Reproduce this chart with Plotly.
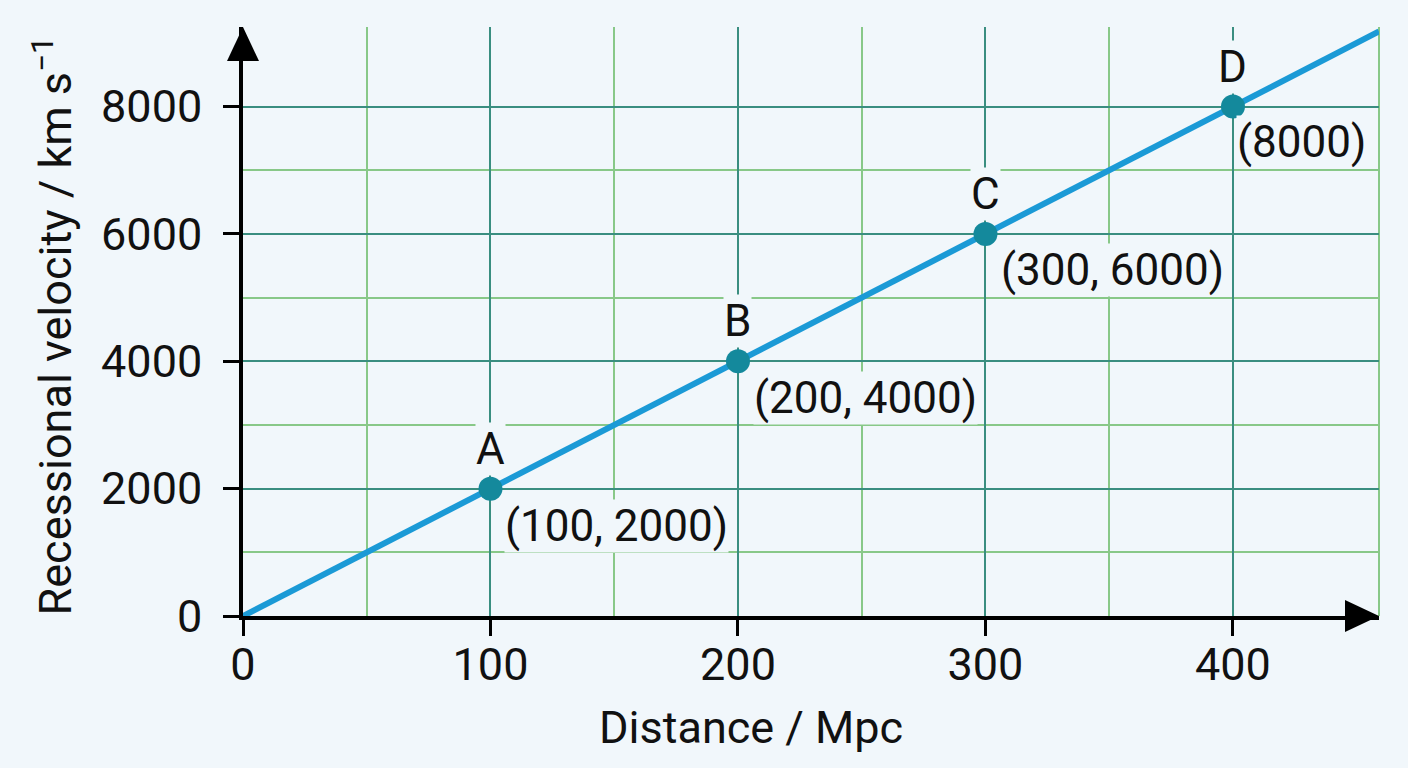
import plotly.graph_objects as go

# ---- data ----
point_names = ["A", "B", "C", "D"]
distance_mpc = [100, 200, 300, 400]
velocity_kms = [2000, 4000, 6000, 8000]
point_labels = ["(100, 2000)", "(200, 4000)", "(300, 6000)", "(8000)"]

line_distance = [0, 100, 200, 300, 400, 459]
line_velocity = [0, 2000, 4000, 6000, 8000, 9180]

x_ticks = [0, 100, 200, 300, 400]
y_ticks = [0, 2000, 4000, 6000, 8000]
x_minor = [50, 150, 250, 350]
y_minor = [1000, 3000, 5000, 7000]
X_MAX = 459
Y_MAX = 9250

# ---- style ----
BG = "#F1F7FB"
MAJOR = "#3A8E80"
MINOR = "#88C888"
LINE = "#1B9AD6"
MARK = "#14899C"
INK = "#111111"
FONT = "Roboto"

fig = go.Figure()

fig.add_trace(go.Scatter(
    x=line_distance, y=line_velocity, mode="lines",
    line=dict(color=LINE, width=6), hoverinfo="skip", showlegend=False,
    cliponaxis=False,
))
fig.add_trace(go.Scatter(
    x=distance_mpc, y=velocity_kms, mode="markers",
    marker=dict(color=MARK, size=24), showlegend=False, cliponaxis=False,
))

# letter labels and coordinate labels
shift_x = {"A": 14, "B": 15, "C": 15, "D": 3}
shift_y = {"A": -37, "B": -37, "C": -36, "D": -35}
for name, xv, yv, lab in zip(point_names, distance_mpc, velocity_kms, point_labels):
    fig.add_annotation(x=xv, y=yv, text=name, showarrow=False,
                       xanchor="center", yanchor="middle", yshift=40,
                       font=dict(family=FONT, size=44, color=INK),
                       bgcolor=BG, borderpad=0)
    fig.add_annotation(x=xv, y=yv, text=lab, showarrow=False,
                       xanchor="left", yanchor="middle", yshift=shift_y[name],
                       xshift=shift_x[name],
                       font=dict(family=FONT, size=44, color=INK),
                       bgcolor=BG, borderpad=0)

# axis titles
fig.add_annotation(xref="paper", yref="paper", x=0.447, y=0, yshift=-111,
                   text="Distance / Mpc", showarrow=False,
                   xanchor="center", yanchor="middle",
                   font=dict(family=FONT, size=45, color=INK))
fig.add_annotation(xref="paper", yref="paper", x=0, y=0.5, xshift=-190, yshift=-5,
                   text="Recessional velocity / km s<sup>−1</sup>", showarrow=False,
                   textangle=-90, xanchor="center", yanchor="middle",
                   font=dict(family=FONT, size=45, color=INK))

# right border line (light green)
fig.add_shape(type="line", xref="paper", yref="paper", x0=1, x1=1, y0=0, y1=1,
              line=dict(color=MINOR, width=2), layer="below")

# arrow heads
fig.add_shape(type="path", xref="paper", yref="paper",
              xsizemode="pixel", ysizemode="pixel", xanchor=1, yanchor=0,
              path="M 0,0 L -34,16 L -34,-16 Z", fillcolor="black",
              line=dict(width=0))
fig.add_shape(type="path", xref="paper", yref="paper",
              xsizemode="pixel", ysizemode="pixel", xanchor=0, yanchor=1,
              path="M 0,0 L -16,-34 L 16,-34 Z", fillcolor="black",
              line=dict(width=0))

axis_common = dict(
    showline=True, linecolor="black", linewidth=3.5,
    ticks="outside", ticklen=16, tickwidth=3, tickcolor="black",
    showgrid=True, gridcolor=MAJOR, gridwidth=2,
    zeroline=False,
    tickfont=dict(family=FONT, size=45, color=INK),
)

fig.update_xaxes(range=[0, X_MAX], tickvals=x_ticks, ticktext=[str(v) for v in x_ticks],
                 minor=dict(tickvals=x_minor, showgrid=True, gridcolor=MINOR,
                            gridwidth=2, ticks=""),
                 ticklabelstandoff=-10, **axis_common)
fig.update_yaxes(range=[0, Y_MAX], tickvals=y_ticks, ticktext=[str(v) for v in y_ticks],
                 minor=dict(tickvals=y_minor, showgrid=True, gridcolor=MINOR,
                            gridwidth=2, ticks=""),
                 ticklabelstandoff=12, **axis_common)

fig.update_layout(
    width=1408, height=768,
    margin=dict(l=243, r=29, t=27, b=152),
    paper_bgcolor=BG, plot_bgcolor=BG,
    showlegend=False,
    font=dict(family=FONT, color=INK),
)

fig.write_html(
    "out.html",
    config={"displayModeBar": False},
    post_script="document.body.style.margin='0';document.body.style.background='" + BG + "';",
)
